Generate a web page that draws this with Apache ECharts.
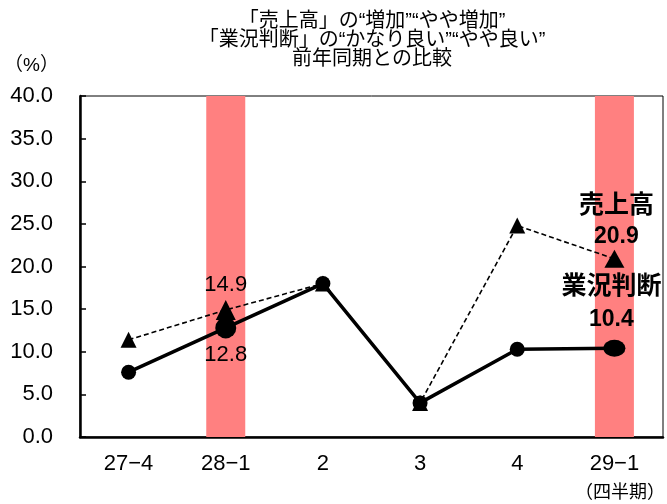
<!DOCTYPE html>
<html><head><meta charset="utf-8">
<script src="https://cdn.jsdelivr.net/npm/echarts@6/dist/echarts.min.js"></script>
<style>html,body{margin:0;padding:0;background:#fff}#c{width:667px;height:504px}</style>
</head><body><div id="c"></div>
<script>
const titleLines = ['「売上高」の“増加”“やや増加”', '「業況判断」の“かなり良い”“やや良い”', '前年同期との比較'];
const categories = ['27−4', '28−1', '2', '3', '4', '29−1'];
const salesName = '売上高';
const businessName = '業況判断';
const salesValues = [11.4, 14.9, 18.0, 4.0, 24.8, 20.9];
const businessValues = [7.6, 12.8, 18.0, 4.0, 10.3, 10.4];
const highlightCategories = ['28−1', '29−1'];
const yMin = 0, yMax = 40, yStep = 5;
const yUnit = '（%）';
const xUnit = '（四半期）';

const FONT = '"Liberation Sans", "Noto Sans CJK JP", sans-serif';
const lastIdx = categories.length - 1;
const hiIdx = categories.indexOf('28−1');

const bandData = categories.map(c => highlightCategories.includes(c) ? yMax : '-');

const salesData = salesValues.map((v, i) => {
  const item = { value: v, symbolSize: 16 };
  if (i === hiIdx) {
    item.symbolSize = 20;
    item.label = { show: true, position: 'top', distance: 4, fontSize: 22, color: '#000', fontFamily: FONT };
  }
  if (i === lastIdx) {
    item.symbolSize = [20, 18];
    item.label = {
      show: true, position: 'top', distance: 0, offset: [2, 0],
      formatter: '{n|' + salesName + '}\n{v|{c}}',
      rich: {
        n: { fontSize: 25, fontWeight: 'bold', lineHeight: 36, color: '#000', fontFamily: FONT },
        v: { fontSize: 23, fontWeight: 'bold', lineHeight: 26, color: '#000', fontFamily: FONT }
      }
    };
  }
  return item;
});

const businessData = businessValues.map((v, i) => {
  const item = { value: v, symbolSize: 15 };
  if (i === hiIdx) {
    item.symbolSize = 21;
    item.label = { show: true, position: 'bottom', distance: 6, fontSize: 22, color: '#000', fontFamily: FONT };
  }
  if (i === lastIdx) {
    item.symbolSize = [22, 17];
    item.label = {
      show: true, position: 'top', distance: 7, offset: [-3, 0],
      formatter: '{n|' + businessName + '}\n{v|{c}}',
      rich: {
        n: { fontSize: 25, fontWeight: 'bold', lineHeight: 40, color: '#000', fontFamily: FONT },
        v: { fontSize: 23, fontWeight: 'bold', lineHeight: 26, color: '#000', fontFamily: FONT }
      }
    };
  }
  return item;
});

const chart = echarts.init(document.getElementById('c'), null, { renderer: 'canvas' });
chart.setOption({
  animation: false,
  backgroundColor: '#fff',
  title: {
    text: titleLines.join('\n'),
    left: 367, top: 7, textAlign: 'center',
    textStyle: { fontSize: 20, fontWeight: 'normal', lineHeight: 19, color: '#000', fontFamily: FONT }
  },
  grid: { left: 80, right: 4, top: 96, bottom: 67, show: true, borderColor: '#000', borderWidth: 1, backgroundColor: 'transparent' },
  xAxis: {
    type: 'category', data: categories,
    axisLine: { lineStyle: { color: '#000', width: 2.5 } },
    axisTick: { inside: true, length: 6, interval: 0, lineStyle: { color: '#000', width: 1.5 } },
    axisLabel: { margin: 16, fontSize: 22, color: '#000', fontFamily: FONT, interval: 0 },
    splitLine: { show: false }
  },
  yAxis: {
    type: 'value', min: yMin, max: yMax, interval: yStep,
    axisLine: { show: true, lineStyle: { color: '#000', width: 2.5 } },
    axisTick: { show: true, inside: true, length: 6, lineStyle: { color: '#000', width: 1.5 } },
    axisLabel: { margin: 27, fontSize: 22, color: '#000', fontFamily: FONT, formatter: v => v.toFixed(1) },
    splitLine: { show: false }
  },
  graphic: [
    { type: 'text', left: 4, top: 56, style: { text: yUnit, fontSize: 19, fill: '#000', fontFamily: FONT } },
    { type: 'text', right: 2, top: 484, style: { text: xUnit, fontSize: 18, fill: '#000', fontFamily: FONT } }
  ],
  series: [
    { type: 'bar', data: bandData, barWidth: 39, silent: true, z: 0, itemStyle: { color: '#FF8080' } },
    {
      name: salesName, type: 'line', data: salesData, symbol: 'triangle', z: 3,
      lineStyle: { color: '#000', width: 1.6, type: [5, 3] },
      itemStyle: { color: '#000' }
    },
    {
      name: businessName, type: 'line', data: businessData, symbol: 'circle', z: 4,
      lineStyle: { color: '#000', width: 3.5 },
      itemStyle: { color: '#000' }
    }
  ]
});
</script>
</body></html>
